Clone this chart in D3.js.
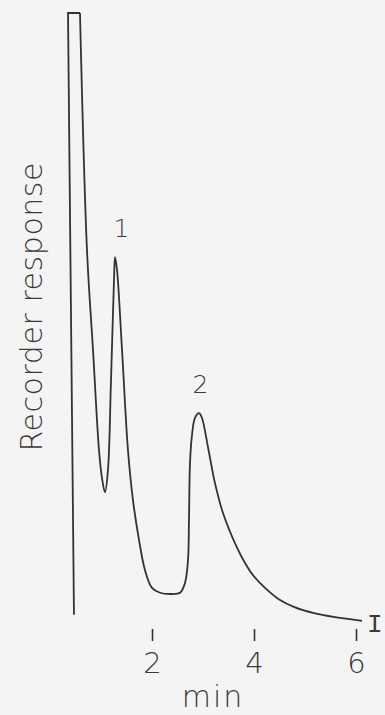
<!DOCTYPE html>
<html>
<head>
<meta charset="utf-8">
<script src="https://cdn.jsdelivr.net/npm/d3@7"></script>
<style>
  html, body { margin: 0; padding: 0; background: #f5f4f4; }
  text { font-family: "DejaVu Sans", sans-serif; font-weight: 200; fill: #3a3a3a; }
</style>
</head>
<body>
<svg id="chart" width="385" height="715"></svg>
<script>
// trace: time (min) and response (arbitrary, 100 = off scale)
var timeMin = [0.47, 0.353, 0.588, 0.725, 0.843, 0.961, 1.02, 1.078, 1.137, 1.196, 1.255, 1.275,
               1.314, 1.412, 1.529, 1.627, 1.745, 1.863, 2.0, 2.157, 2.353, 2.549, 2.647, 2.706,
               2.725, 2.745, 2.784, 2.843, 2.922, 2.98, 3.098, 3.235, 3.392, 3.667, 3.824, 3.98,
               4.216, 4.51, 4.804, 5.157, 5.588, 6.118];
var response = [1.2, 100, 100, 61.1, 44.7, 28.2, 23.6, 21.3, 25.0, 39.7, 56.2, 59.9,
                57.8, 44.7, 28.2, 20.0, 13.5, 8.5, 5.6, 4.8, 4.6, 4.8, 6.4, 10.2,
                16.7, 26.1, 30.7, 33.5, 34.3, 33.5, 28.7, 22.8, 17.9, 12.2, 9.7, 7.7,
                5.6, 3.6, 2.4, 1.5, 0.8, 0.2];
var tickValues = [2, 4, 6];
var peakLabels = ["1", "2"];
var peakTimes = [1.4, 2.95];
var peakHeights = [63.2, 37.6];

var svg = d3.select('#chart');

var x = d3.scaleLinear().domain([0, 6]).range([50, 356]);
var y = d3.scaleLinear().domain([0, 100]).range([622, 13]);

var idx = d3.range(timeMin.length);

// off-scale solvent peak: straight pen strokes
var lineStraight = d3.line()
    .x(function (i) { return x(timeMin[i]); })
    .y(function (i) { return y(response[i]); });

// rest of the trace: smooth
var lineSmooth = d3.line()
    .x(function (i) { return x(timeMin[i]); })
    .y(function (i) { return y(response[i]); })
    .curve(d3.curveCatmullRom.alpha(0.5));

svg.append('path')
    .datum(idx.slice(0, 3))
    .attr('d', lineStraight)
    .attr('fill', 'none')
    .attr('stroke', '#333')
    .attr('stroke-width', 1.8)
    .attr('stroke-linejoin', 'miter');

svg.append('path')
    .datum(idx.slice(2))
    .attr('d', lineSmooth)
    .attr('fill', 'none')
    .attr('stroke', '#333')
    .attr('stroke-width', 1.8)
    .attr('stroke-linejoin', 'round');

// time axis: only small upward ticks and numbers
var axis = d3.axisBottom(x)
    .tickValues(tickValues)
    .tickSizeInner(-12)
    .tickSizeOuter(0)
    .tickPadding(11)
    .tickFormat(d3.format('d'));

var g = svg.append('g')
    .attr('transform', 'translate(0,641)')
    .call(axis);
g.select('.domain').remove();
g.selectAll('.tick line').attr('stroke', '#333').attr('stroke-width', 1.6);
g.selectAll('.tick text')
    .attr('fill', '#3a3a3a')
    .style('font-family', '"DejaVu Sans", sans-serif')
    .style('font-weight', 200)
    .style('font-size', '29px');

svg.append('text')
    .attr('x', 213)
    .attr('y', 707)
    .attr('text-anchor', 'middle')
    .style('font-size', '30px')
    .style('letter-spacing', '2px')
    .text('min');

// y label
svg.append('text')
    .attr('transform', 'translate(42,307) rotate(-90)')
    .attr('text-anchor', 'middle')
    .attr('textLength', 289)
    .attr('lengthAdjust', 'spacing')
    .style('font-size', '30px')
    .text('Recorder response');

// peak numbers
svg.selectAll('text.peak')
    .data(peakLabels)
    .enter().append('text')
    .attr('class', 'peak')
    .attr('x', function (d, i) { return x(peakTimes[i]); })
    .attr('y', function (d, i) { return y(peakHeights[i]); })
    .attr('text-anchor', 'middle')
    .style('font-size', '25px')
    .text(function (d) { return d; });

// roman numeral at end of trace
svg.append('text')
    .attr('x', 367)
    .attr('y', 632)
    .style('font-family', '"Liberation Mono", monospace')
    .style('font-size', '26px')
    .text('I');
</script>
</body>
</html>
